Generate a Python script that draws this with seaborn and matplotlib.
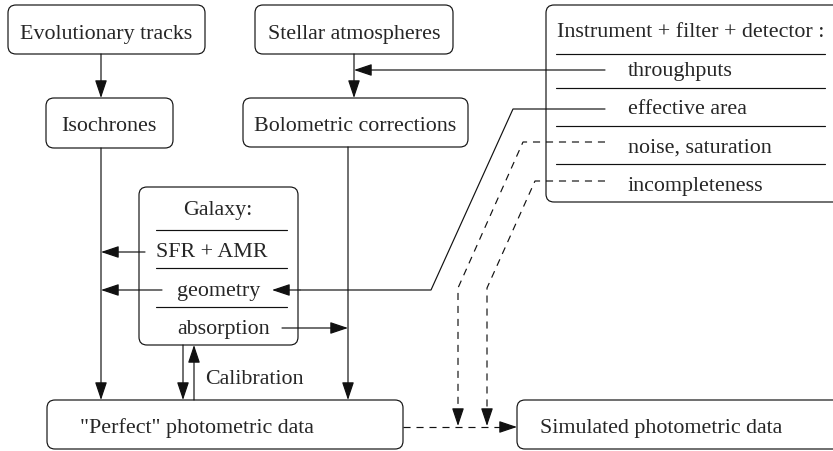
"""
Diagram: pipeline from stellar models to simulated photometric data
"""

import matplotlib
matplotlib.use("Agg")
import matplotlib.pyplot as plt
from matplotlib.patches import FancyBboxPatch, FancyArrowPatch
import seaborn as sns

# Box texts
box_labels = ["Evolutionary tracks", "Stellar atmospheres", "Isochrones",
              "Bolometric corrections", '"Perfect" photometric data',
              "Simulated photometric data"]
instrument_title = "Instrument + filter + detector :"
instrument_items = ["throughputs", "effective area", "noise, saturation", "incompleteness"]
galaxy_title = "Galaxy:"
galaxy_items = ["SFR + AMR", "geometry", "absorption"]
calib_label = "Calibration"

# Layout (pixel coords, y down; text y = baseline)
box_left = [8, 255, 46, 243, 47, 517]
box_top = [5, 5, 98, 98, 400, 400]
box_right = [205, 453, 173, 468, 403, 845]
box_bottom = [54, 54, 148, 147, 449, 449]
box_text_x = [106, 354, 109, 355, 80, 540]
box_text_y = [39, 39, 131, 131, 433, 433]
box_text_ha = ["center", "center", "center", "center", "left", "left"]

instr_box = (546, 5, 845, 202)
instr_title_y = 37
instr_sep_y = [54, 88, 126, 164]
instr_item_y = [76, 114, 153, 191]

gal_box = (139, 187, 298, 345)
gal_title_y = 215
gal_sep_y = [230, 268, 307]
gal_item_x = [212, 219, 224]
gal_item_y = [257, 296, 334]

LC = "#111111"
LW = 0.85
FS = 15.8
HEAD = "-|>,head_length=11,head_width=3.7"

sns.set_theme(style="white")
plt.rcParams["font.family"] = ["Liberation Serif", "DejaVu Serif"]

fig = plt.figure(figsize=(8.33, 4.51), dpi=100)
ax = fig.add_axes([0, 0, 1, 1])
ax.set_xlim(0, 833)
ax.set_ylim(451, 0)
ax.axis("off")


def rbox(l, t, r, b):
    ax.add_patch(FancyBboxPatch((l, t), r - l, b - t,
                                boxstyle="round,pad=0,rounding_size=8",
                                fc="white", ec=LC, lw=LW, zorder=1))


def arrow(p0, p1):
    ax.add_patch(FancyArrowPatch(p0, p1, arrowstyle=HEAD, mutation_scale=1,
                                 color=LC, lw=LW, shrinkA=0, shrinkB=0, zorder=3))


def poly(xs, ys, dashed=False):
    ls = (0, (6, 5)) if dashed else "-"
    ax.plot(xs, ys, color=LC, lw=LW, ls=ls, zorder=2)


def dashed_arrow(pts):
    # dashed path with solid head on its last segment
    xs = [p[0] for p in pts]
    ys = [p[1] for p in pts]
    x1, y1 = xs[-1], ys[-1]
    x0, y0 = xs[-2], ys[-2]
    d = ((x1 - x0) ** 2 + (y1 - y0) ** 2) ** 0.5
    hx, hy = x1 - (x1 - x0) / d * 16, y1 - (y1 - y0) / d * 16
    poly(xs[:-1] + [hx], ys[:-1] + [hy], dashed=True)
    arrow((hx, hy), (x1, y1))


# simple boxes
for i, lab in enumerate(box_labels):
    rbox(box_left[i], box_top[i], box_right[i], box_bottom[i])
    ax.text(box_text_x[i], box_text_y[i], lab, fontsize=FS,
            ha=box_text_ha[i], va="baseline", zorder=4)

# instrument box
rbox(*instr_box)
ax.text(557, instr_title_y, instrument_title, fontsize=FS, ha="left", va="baseline")
for y in instr_sep_y:
    poly([556, 825], [y, y])
for lab, y in zip(instrument_items, instr_item_y):
    ax.text(628, y, lab, fontsize=FS, ha="left", va="baseline")

# galaxy box
rbox(*gal_box)
ax.text(218, gal_title_y, galaxy_title, fontsize=FS, ha="center", va="baseline")
for y in gal_sep_y:
    poly([156, 287], [y, y])
for lab, x, y in zip(galaxy_items, gal_item_x, gal_item_y):
    ax.text(x, y, lab, fontsize=FS, ha="center", va="baseline")

# main vertical flows
arrow((101, 54), (101, 98))
arrow((354, 54), (354, 98))
arrow((605, 70), (354, 70))
arrow((101, 148), (101, 400))
arrow((348, 147), (348, 400))

# galaxy links
arrow((145, 252), (101, 252))
arrow((162, 290), (101, 290))
arrow((282, 328), (348, 328))
arrow((183, 345), (183, 400))
arrow((194, 400), (194, 345))
ax.text(205, 384, calib_label, fontsize=FS, ha="left", va="baseline")

# effective area -> geometry
poly([605, 513, 431, 300], [109, 109, 290, 290])
arrow((300, 290), (272, 290))

# noise / incompleteness -> simulated
dashed_arrow([(605, 142), (523, 142), (458, 288), (458, 426)])
dashed_arrow([(605, 181), (535, 181), (487, 288), (487, 426)])
dashed_arrow([(403, 427), (517, 427)])

fig.savefig("out.png", dpi=100)
plt.close(fig)
